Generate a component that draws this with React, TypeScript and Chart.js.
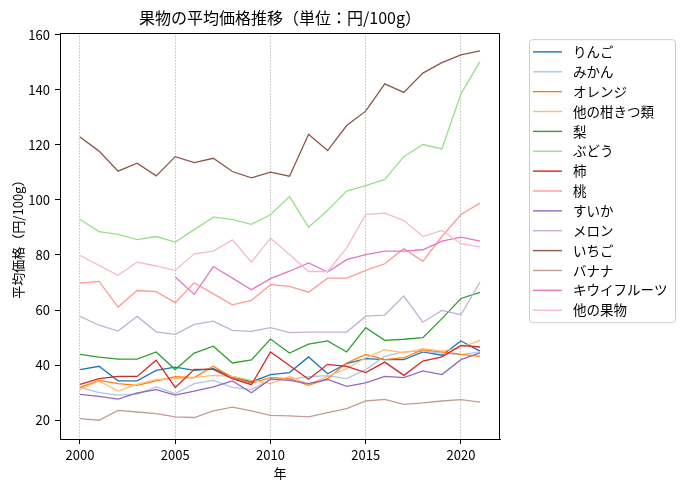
import React, { useEffect, useRef } from 'react';
import { Chart, registerables } from 'chart.js';

Chart.register(...registerables);

const years = [2000, 2001, 2002, 2003, 2004, 2005, 2006, 2007, 2008, 2009, 2010,
    2011, 2012, 2013, 2014, 2015, 2016, 2017, 2018, 2019, 2020, 2021];

const apple = [38.4, 39.6, 34.3, 34.3, 38.1, 39.3, 38.1, 38.7, 35.8, 33.9, 36.6,
    37.3, 43.0, 36.9, 40.6, 42.4, 42.0, 42.0, 44.8, 43.6, 48.8, 45.1];
const mikan = [31.9, 30.0, 29.1, 29.5, 32.1, 29.7, 33.3, 34.5, 31.9, 31.1, 34.8,
    34.9, 35.8, 36.2, 35.1, 38.4, 43.2, 44.8, 45.1, 44.4, 43.8, 44.8];
const orange = [31.9, 34.5, 33.3, 32.7, 34.3, 35.8, 35.5, 39.6, 35.5, 33.5, 35.5,
    35.1, 32.7, 35.1, 40.8, 43.9, 42.0, 42.7, 45.6, 44.8, 43.9, 43.2];
const otherCitrus = [31.1, 34.3, 30.6, 33.0, 34.8, 35.1, 35.5, 36.3, 35.9, 34.5, 33.3,
    35.9, 33.0, 35.9, 38.7, 42.7, 45.6, 44.5, 46.0, 45.1, 46.4, 49.0];
const pear = [43.9, 42.9, 42.2, 42.2, 44.8, 38.4, 44.4, 46.9, 40.8, 41.9, 49.5,
    44.4, 47.6, 48.8, 44.8, 53.6, 49.0, 49.4, 50.0, 56.9, 64.2, 66.4];
const grape = [92.9, 88.5, 87.5, 85.6, 86.7, 84.7, 89.2, 93.7, 92.9, 91.1, 94.6,
    101.2, 90.1, 96.2, 103.2, 105.2, 107.4, 115.7, 120.1, 118.5, 138.5, 150.2];
const persimmon = [33.0, 35.1, 35.9, 35.9, 41.8, 31.9, 38.5, 38.5, 35.1, 32.9, 44.8,
    39.9, 34.9, 40.3, 39.6, 37.3, 41.1, 36.3, 41.5, 43.0, 47.2, 46.6];
const peach = [69.8, 70.4, 61.1, 67.1, 66.7, 62.7, 69.9, 65.9, 61.9, 63.5, 69.2,
    68.6, 66.5, 71.6, 71.6, 74.4, 76.8, 82.3, 77.7, 86.7, 94.7, 98.8];
const watermelon = [29.4, 28.7, 27.7, 29.9, 31.1, 29.1, 30.6, 32.1, 34.3, 30.0, 34.9,
    34.5, 33.3, 34.8, 32.3, 33.6, 35.9, 35.5, 37.9, 36.6, 42.0, 44.5];
const melon = [57.7, 54.5, 52.4, 57.7, 52.1, 51.2, 54.8, 56.0, 52.6, 52.3, 53.6,
    51.8, 52.0, 52.0, 52.0, 57.8, 58.2, 65.1, 55.6, 59.9, 58.3, 70.2];
const strawberry = [122.8, 117.7, 110.4, 113.3, 108.7, 115.7, 113.5, 115.1, 110.3, 108.0, 110.1,
    108.6, 123.8, 117.9, 127.0, 132.2, 142.1, 139.0, 146.0, 149.8, 152.6, 154.1];
const banana = [20.6, 20.0, 23.6, 23.0, 22.4, 21.2, 21.0, 23.4, 24.8, 23.4, 21.8,
    21.6, 21.2, 22.8, 24.2, 27.0, 27.6, 25.8, 26.3, 27.0, 27.5, 26.6];
const kiwi = [null, null, null, null, null, 72.0, 65.7, 75.8, 71.6, 67.4, 71.4,
    74.1, 77.1, 73.8, 78.3, 80.1, 81.4, 81.4, 81.9, 85.0, 86.5, 85.0];
const otherFruit = [79.8, 76.2, 72.6, 77.4, 76.0, 74.4, 80.4, 81.4, 85.5, 77.4, 86.1,
    80.2, 74.0, 74.0, 82.6, 94.7, 95.2, 92.5, 86.7, 88.9, 84.1, 82.9];

const seriesNames = ['りんご', 'みかん', 'オレンジ', '他の柑きつ類', '梨', 'ぶどう', '柿', '桃',
    'すいか', 'メロン', 'いちご', 'バナナ', 'キウイフルーツ', '他の果物'];
const seriesValues = [apple, mikan, orange, otherCitrus, pear, grape, persimmon, peach,
    watermelon, melon, strawberry, banana, kiwi, otherFruit];
const seriesColors = ['#1f77b4', '#aec7e8', '#ff7f0e', '#ffbb78', '#2ca02c', '#98df8a', '#d62728',
    '#ff9896', '#9467bd', '#c5b0d5', '#8c564b', '#c49c94', '#e377c2', '#f7b6d2'];

const xTickStep = 5;
const yTickStep = 20;

const FONT = "'Noto Sans CJK JP', 'Noto Sans CJK SC', sans-serif";

// matplotlib style: top/right spines + boxed legend outside the axes
const frameAndLegend = {
    id: 'frameAndLegend',
    afterDatasetsDraw(chart: any) {
        const { ctx, chartArea: a } = chart;
        const l = Math.round(a.left);
        const t = Math.round(a.top) + 0.5;
        const r = Math.round(a.right) - 0.5;
        const b = Math.round(a.bottom);
        ctx.save();
        ctx.strokeStyle = '#000';
        ctx.lineWidth = 1;
        ctx.beginPath();
        ctx.moveTo(l, t);
        ctx.lineTo(r, t);
        ctx.lineTo(r, b);
        ctx.stroke();
        ctx.restore();
    },
    afterDraw(chart: any) {
        const { ctx, chartArea: a } = chart;
        const bx = a.right + 29;
        const by = a.top + 6;
        const bw = 146;
        const bh = 283;
        ctx.save();
        ctx.beginPath();
        ctx.roundRect(bx + 0.5, by + 0.5, bw, bh, 3);
        ctx.fillStyle = 'rgba(255,255,255,0.8)';
        ctx.fill();
        ctx.strokeStyle = '#cccccc';
        ctx.lineWidth = 1;
        ctx.stroke();
        ctx.font = `13.5px ${FONT}`;
        ctx.textBaseline = 'middle';
        ctx.fillStyle = '#000';
        chart.data.datasets.forEach((ds: any, i: number) => {
            const y = by + 12.7 + i * 19.87;
            ctx.beginPath();
            ctx.moveTo(bx + 4, y);
            ctx.lineTo(bx + 33, y);
            ctx.strokeStyle = ds.borderColor;
            ctx.lineWidth = 1.4;
            ctx.stroke();
            ctx.fillText(ds.label, bx + 44, y);
        });
        ctx.restore();
    },
};

const App: React.FC = () => {
    const canvasRef = useRef<HTMLCanvasElement>(null);
    const chartRef = useRef<Chart | null>(null);

    useEffect(() => {
        if (!canvasRef.current) return;
        const ctx = canvasRef.current.getContext('2d');
        if (!ctx) return;

        const datasets = seriesNames.map((name, i) => ({
            label: name,
            data: years.map((yr, j) => ({ x: yr, y: seriesValues[i][j] })),
            borderColor: seriesColors[i],
            backgroundColor: seriesColors[i],
            borderWidth: 1.3,
            pointRadius: 0,
            fill: false,
            tension: 0,
            spanGaps: false,
            order: seriesNames.length - i,
        }));

        chartRef.current = new Chart(ctx, {
            type: 'line',
            data: { datasets },
            plugins: [frameAndLegend],
            options: {
                animation: false,
                responsive: true,
                maintainAspectRatio: false,
                layout: { padding: { left: 0, right: 184, top: 0, bottom: 0 } },
                plugins: {
                    legend: { display: false },
                    tooltip: { enabled: false },
                    title: {
                        display: true,
                        text: '果物の平均価格推移（単位：円/100g）',
                        fullSize: false,
                        color: '#000',
                        font: { family: FONT, size: 16, weight: 'normal' },
                        padding: { top: 8, bottom: 6 },
                    },
                },
                scales: {
                    x: {
                        type: 'linear',
                        min: 1998.95,
                        max: 2022.05,
                        ticks: {
                            stepSize: xTickStep,
                            includeBounds: false,
                            maxRotation: 0,
                            color: '#000',
                            padding: 3,
                            font: { family: FONT, size: 13 },
                            callback: (v: any) => String(v),
                        },
                        grid: {
                            drawOnChartArea: true,
                            color: '#b0b0b0',
                            lineWidth: 0.8,
                            tickColor: '#000',
                            tickLength: 5,
                            tickWidth: 1,
                        },
                        border: { display: true, color: '#000', width: 1, dash: [1.5, 1.5] },
                        title: {
                            display: true,
                            text: '年',
                            color: '#000',
                            font: { family: FONT, size: 13 },
                            padding: { top: 0, bottom: 9 },
                        },
                        afterFit: (s: any) => { s.height = 51; },
                    },
                    y: {
                        min: 13.2,
                        max: 160.5,
                        ticks: {
                            stepSize: yTickStep,
                            includeBounds: false,
                            color: '#000',
                            padding: 5,
                            font: { family: FONT, size: 13 },
                        },
                        grid: {
                            drawOnChartArea: false,
                            tickColor: '#000',
                            tickLength: 5,
                            tickWidth: 1,
                        },
                        border: { display: true, color: '#000', width: 1 },
                        title: {
                            display: true,
                            text: '平均価格（円/100g）',
                            color: '#000',
                            font: { family: FONT, size: 13 },
                            padding: { top: 10, bottom: 0 },
                        },
                        afterFit: (s: any) => { s.width = 60; },
                    },
                },
            },
        });

        return () => {
            chartRef.current?.destroy();
            chartRef.current = null;
        };
    }, []);

    return (
        <div style={{ position: 'absolute', left: 0, top: 0, width: 684, height: 490, background: '#fff' }}>
            <canvas ref={canvasRef} />
        </div>
    );
};

export default App;
